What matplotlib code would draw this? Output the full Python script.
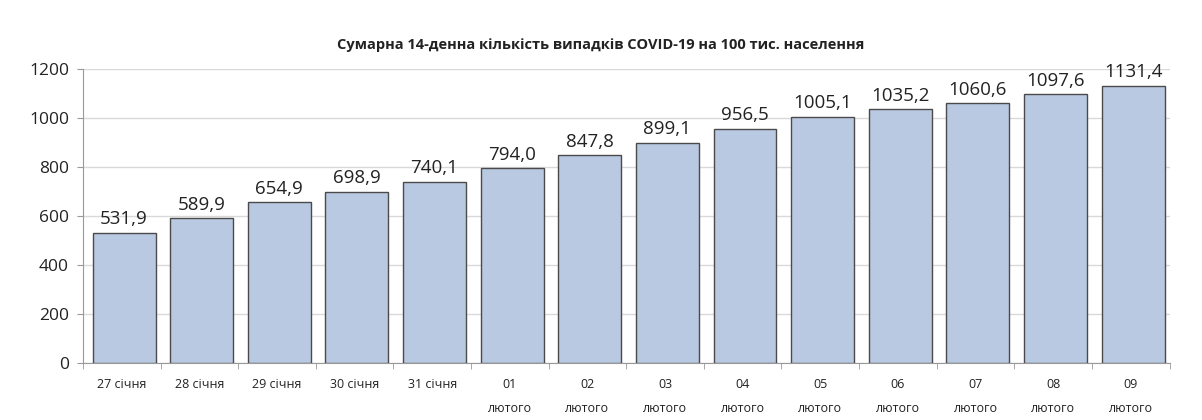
import matplotlib
matplotlib.use("Agg")
import matplotlib.pyplot as plt
import numpy as np

# 14-day cumulative COVID-19 cases per 100k population
dates = ["27 січня", "28 січня", "29 січня", "30 січня", "31 січня",
         "01\nлютого", "02\nлютого", "03\nлютого", "04\nлютого", "05\nлютого",
         "06\nлютого", "07\nлютого", "08\nлютого", "09\nлютого"]
cases = [531.9, 589.9, 654.9, 698.9, 740.1, 794.0, 847.8, 899.1,
         956.5, 1005.1, 1035.2, 1060.6, 1097.6, 1131.4]
yticks = [0, 200, 400, 600, 800, 1000, 1200]

plt.rcParams['font.family'] = ['Open Sans', 'DejaVu Sans']

fig = plt.figure(figsize=(12.02, 4.2), dpi=100)
ax = fig.add_axes([0.069, 0.136, 0.904, 0.700])

x = np.arange(len(cases))
ax.bar(x + 0.03, cases, width=0.81, color="#b9c9e2", edgecolor="#4a4a4a", linewidth=1.0, zorder=3)

for xi, v in zip(x, cases):
    ax.text(xi + 0.03, v + 18, f"{v:.1f}".replace(".", ","), ha="center", va="bottom",
            fontsize=13.5, color="#222222", zorder=4)

ax.set_xlim(-0.5, len(cases) - 0.5)
ax.set_ylim(0, 1200)
ax.set_yticks(yticks)
ax.set_yticklabels([str(t) for t in yticks], fontsize=12.5, color="#222222")
ax.yaxis.grid(True, color="#d9d9d9", linewidth=1.0, zorder=0)

ax.set_xticks(x)
ax.set_xticklabels(dates, fontsize=9, color="#222222", linespacing=2.1, va="top")
ax.tick_params(axis="x", length=0, pad=11)
ax.set_xticks(np.arange(len(cases) + 1) - 0.5, minor=True)
ax.tick_params(axis="x", which="minor", length=4, color="#999999")
ax.tick_params(axis="y", length=4, color="#999999", pad=6)

for side in ["top", "right"]:
    ax.spines[side].set_visible(False)
ax.spines["left"].set_color("#999999")
ax.spines["bottom"].set_color("#999999")

fig.text(0.5, 0.893, "Сумарна 14-денна кількість випадків COVID-19 на 100 тис. населення",
         ha="center", va="center", fontsize=10.5, fontweight="bold", color="#222222")

fig.savefig("out.png", dpi=100)
